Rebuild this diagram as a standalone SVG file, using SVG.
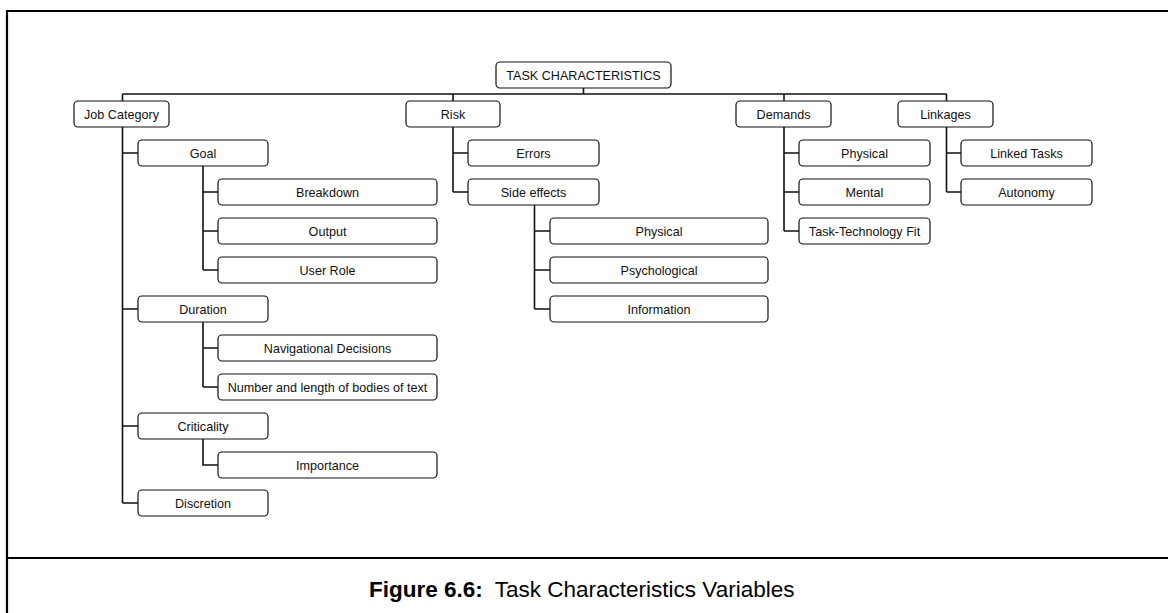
<svg xmlns="http://www.w3.org/2000/svg" width="1168" height="613" viewBox="0 0 1168 613">
<style>
.n rect{fill:#fff;stroke:#111;stroke-width:1.2}
.n text{font-family:"Liberation Sans",Arial,sans-serif;font-size:12.6px;fill:#111;text-anchor:middle}
.c path{fill:none;stroke:#111;stroke-width:1.6}
.frame{fill:none;stroke:#000;stroke-width:2.2}
.cap{font-family:"Liberation Sans",Arial,sans-serif;font-size:22.5px;fill:#000}
</style>
<rect width="1168" height="613" fill="#fff"/>
<path class="frame" d="M7 613 V11 H1168 M7 558 H1168"/>
<g class="c">
<path d="M583.5 88 V94 M122.5 94 H946.5 M122.5 94 V101 M453 94 V101 M784 94 V101 M946.5 94 V101"/>
<path d="M122.5 127 V503 M122.5 153 H138 M122.5 309 H138 M122.5 426 H138 M122.5 503 H138"/>
<path d="M203 166 V270 M203 192 H218 M203 231 H218 M203 270 H218"/>
<path d="M203 322 V387 M203 348 H218 M203 387 H218"/>
<path d="M203 439 V465 H218"/>
<path d="M453 127 V192 M453 153 H468 M453 192 H468"/>
<path d="M534.5 205 V309 M534.5 231 H550 M534.5 270 H550 M534.5 309 H550"/>
<path d="M784 127 V231 M784 153 H799 M784 192 H799 M784 231 H799"/>
<path d="M946.5 127 V192 M946.5 153 H961 M946.5 192 H961"/>
</g>
<g id="root" class="n"><rect x="496" y="62" width="175" height="26" rx="4"/><text x="583.5" y="79.5">TASK CHARACTERISTICS</text></g>
<g id="jobcat" class="n"><rect x="74" y="101" width="95" height="26" rx="4"/><text x="121.5" y="118.5">Job Category</text></g>
<g id="risk" class="n"><rect x="406" y="101" width="94" height="26" rx="4"/><text x="453" y="118.5">Risk</text></g>
<g id="demands" class="n"><rect x="736" y="101" width="95" height="26" rx="4"/><text x="783.5" y="118.5">Demands</text></g>
<g id="linkages" class="n"><rect x="898" y="101" width="95" height="26" rx="4"/><text x="945.5" y="118.5">Linkages</text></g>
<g id="goal" class="n"><rect x="138" y="140" width="130" height="26" rx="4"/><text x="203" y="157.5">Goal</text></g>
<g id="breakdown" class="n"><rect x="218" y="179" width="219" height="26" rx="4"/><text x="327.5" y="196.5">Breakdown</text></g>
<g id="output" class="n"><rect x="218" y="218" width="219" height="26" rx="4"/><text x="327.5" y="235.5">Output</text></g>
<g id="userrole" class="n"><rect x="218" y="257" width="219" height="26" rx="4"/><text x="327.5" y="274.5">User Role</text></g>
<g id="duration" class="n"><rect x="138" y="296" width="130" height="26" rx="4"/><text x="203" y="313.5">Duration</text></g>
<g id="navdec" class="n"><rect x="218" y="335" width="219" height="26" rx="4"/><text x="327.5" y="352.5">Navigational Decisions</text></g>
<g id="numlen" class="n"><rect x="218" y="374" width="219" height="26" rx="4"/><text x="327.5" y="391.5">Number and length of bodies of text</text></g>
<g id="criticality" class="n"><rect x="138" y="413" width="130" height="26" rx="4"/><text x="203" y="430.5">Criticality</text></g>
<g id="importance" class="n"><rect x="218" y="452" width="219" height="26" rx="4"/><text x="327.5" y="469.5">Importance</text></g>
<g id="discretion" class="n"><rect x="138" y="490" width="130" height="26" rx="4"/><text x="203" y="507.5">Discretion</text></g>
<g id="errors" class="n"><rect x="468" y="140" width="131" height="26" rx="4"/><text x="533.5" y="157.5">Errors</text></g>
<g id="sideeffects" class="n"><rect x="468" y="179" width="131" height="26" rx="4"/><text x="533.5" y="196.5">Side effects</text></g>
<g id="se-physical" class="n"><rect x="550" y="218" width="218" height="26" rx="4"/><text x="659" y="235.5">Physical</text></g>
<g id="psychological" class="n"><rect x="550" y="257" width="218" height="26" rx="4"/><text x="659" y="274.5">Psychological</text></g>
<g id="information" class="n"><rect x="550" y="296" width="218" height="26" rx="4"/><text x="659" y="313.5">Information</text></g>
<g id="d-physical" class="n"><rect x="799" y="140" width="131" height="26" rx="4"/><text x="864.5" y="157.5">Physical</text></g>
<g id="mental" class="n"><rect x="799" y="179" width="131" height="26" rx="4"/><text x="864.5" y="196.5">Mental</text></g>
<g id="ttf" class="n"><rect x="799" y="218" width="131" height="26" rx="4"/><text x="864.5" y="235.5">Task-Technology Fit</text></g>
<g id="linkedtasks" class="n"><rect x="961" y="140" width="131" height="26" rx="4"/><text x="1026.5" y="157.5">Linked Tasks</text></g>
<g id="autonomy" class="n"><rect x="961" y="179" width="131" height="26" rx="4"/><text x="1026.5" y="196.5">Autonomy</text></g>
<text class="cap" x="369" y="597"><tspan font-weight="bold">Figure 6.6:</tspan><tspan dx="12">Task Characteristics Variables</tspan></text>
</svg>
